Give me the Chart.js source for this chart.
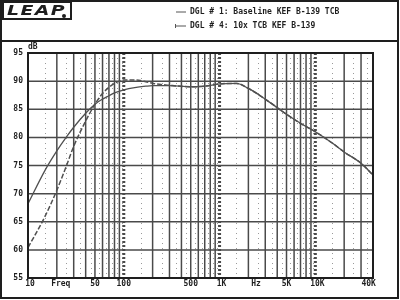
<!DOCTYPE html>
<html>
<head>
<meta charset="utf-8">
<script src="https://cdn.jsdelivr.net/npm/chart.js@4/dist/chart.umd.min.js"></script>
<style>
  html, body { margin: 0; padding: 0; background: #fff; }
  #wrap { width: 400px; height: 300px; }
</style>
</head>
<body>
<div id="wrap"><canvas id="leapChart" width="400" height="300"></canvas></div>
<script>
// frequency points (Hz) and SPL (dB)
const freqs    = [10, 15, 20, 25, 30, 40, 50, 60, 70, 80, 90, 100, 130, 170, 200, 300, 500, 700, 1000, 1500, 2000, 3000, 5000, 7000, 10000, 15000, 20000, 30000, 40000];
const baseline = [68.2, 74.1, 77.6, 80.0, 81.8, 84.3, 85.9, 86.8, 87.4, 87.9, 88.2, 88.45, 88.85, 89.1, 89.2, 89.2, 89.0, 89.1, 89.5, 89.6, 88.7, 86.8, 84.1, 82.5, 81.0, 79.0, 77.4, 75.4, 73.3];
const teb10x   = [60.4, 65.9, 70.6, 74.8, 78.4, 82.9, 85.9, 87.8, 88.9, 89.6, 90.0, 90.2, 90.2, 89.9, 89.6, 89.25, 89.0, 89.1, 89.5, 89.6, 88.7, 86.8, 84.1, 82.5, 81.0, 79.0, 77.4, 75.4, 73.3];

const seriesNames = ['DGL # 1: Baseline KEF B-139 TCB', 'DGL # 4: 10x TCB KEF B-139'];

// x axis labels (positions in Hz)
const xTickVals   = [10.5, 22, 50, 100, 500, 1050, 2400, 5000, 10500, 36000];
const xTickLabels = ['10', 'Freq', '50', '100', '500', '1K', 'Hz', '5K', '10K', '40K'];
const yTicks = [55, 60, 65, 70, 75, 80, 85, 90, 95];

const ink = '#1e1e1e';
const gridDark = '#4a4a4a';
const monoFont = 'bold 8px "DejaVu Sans Mono", monospace';

function toXY(ys) {
  return freqs.map((f, i) => ({ x: f, y: ys[i] }));
}

// draws header box, logo, legend, grid and frame
const leapFrame = {
  id: 'leapFrame',
  beforeDraw(chart) {
    const ctx = chart.ctx;
    ctx.save();
    ctx.fillStyle = '#fff';
    ctx.fillRect(0, 0, chart.width, chart.height);
    ctx.strokeStyle = ink;
    ctx.lineWidth = 2;
    ctx.strokeRect(1, 1, 397, 297);
    ctx.beginPath();
    ctx.moveTo(1, 41);
    ctx.lineTo(398, 41);
    ctx.stroke();

    // logo
    ctx.lineWidth = 2;
    ctx.strokeRect(3, 2, 68, 17);
    ctx.fillStyle = ink;
    ctx.save();
    ctx.translate(7, 11);
    ctx.scale(1.35, 1);
    ctx.font = 'italic bold 14px "DejaVu Sans"';
    ctx.textAlign = 'left';
    ctx.textBaseline = 'middle';
    if ('letterSpacing' in ctx) ctx.letterSpacing = '1px';
    ctx.fillText('LEAP', 0, 0);
    ctx.restore();
    ctx.beginPath();
    ctx.arc(64, 16, 2, 0, Math.PI * 2);
    ctx.fill();

    // legend
    ctx.font = monoFont;
    ctx.textAlign = 'left';
    ctx.textBaseline = 'middle';
    ctx.lineWidth = 1;
    ctx.strokeStyle = '#555';
    const ds = chart.data.datasets;
    ds.forEach((d, i) => {
      const y = 12 + i * 14;
      ctx.beginPath();
      ctx.moveTo(176, y);
      ctx.lineTo(186, y);
      ctx.stroke();
      if (i === 1) {
        ctx.beginPath();
        ctx.moveTo(175.5, y - 2);
        ctx.lineTo(175.5, y + 2);
        ctx.stroke();
      }
      ctx.fillText(d.label, 190, y);
    });
    ctx.restore();
  },
  beforeDatasetsDraw(chart) {
    const ctx = chart.ctx;
    const a = chart.chartArea;
    const xs = chart.scales.x;
    const ys = chart.scales.y;
    ctx.save();

    // minor dotted verticals at the half steps
    ctx.strokeStyle = '#9a9a9a';
    ctx.lineWidth = 1;
    ctx.setLineDash([1, 4]);
    for (let dec = 10; dec <= 10000; dec *= 10) {
      for (let k = 1.5; k < 10; k += 1) {
        const v = k * dec;
        if (v > 40000) continue;
        const px = Math.round(xs.getPixelForValue(v)) + 0.5;
        ctx.beginPath();
        ctx.moveTo(px, a.top);
        ctx.lineTo(px, a.bottom);
        ctx.stroke();
      }
    }

    // solid verticals
    ctx.setLineDash([]);
    ctx.strokeStyle = gridDark;
    ctx.lineWidth = 1.5;
    for (let dec = 10; dec <= 10000; dec *= 10) {
      for (let k = 2; k <= 9; k++) {
        const v = k * dec;
        if (v >= 40000) continue;
        const px = xs.getPixelForValue(v);
        ctx.beginPath();
        ctx.moveTo(px, a.top);
        ctx.lineTo(px, a.bottom);
        ctx.stroke();
      }
    }

    // decade lines, dashed and heavy
    ctx.lineWidth = 3;
    ctx.setLineDash([2, 2]);
    [100, 1000, 10000].forEach(v => {
      const px = xs.getPixelForValue(v);
      ctx.beginPath();
      ctx.moveTo(px, a.top);
      ctx.lineTo(px, a.bottom);
      ctx.stroke();
    });

    // horizontals
    ctx.setLineDash([]);
    ctx.lineWidth = 1.5;
    yTicks.forEach(v => {
      const py = ys.getPixelForValue(v);
      ctx.beginPath();
      ctx.moveTo(a.left, py);
      ctx.lineTo(a.right, py);
      ctx.stroke();
    });
    ctx.restore();
  },
  afterDatasetsDraw(chart) {
    const ctx = chart.ctx;
    const a = chart.chartArea;
    ctx.save();
    ctx.strokeStyle = ink;
    ctx.lineWidth = 2;
    ctx.strokeRect(a.left, a.top, a.right - a.left, a.bottom - a.top);
    ctx.fillStyle = ink;
    ctx.font = monoFont;
    ctx.textAlign = 'left';
    ctx.textBaseline = 'middle';
    ctx.fillText('dB', a.left, a.top - 6);
    ctx.restore();
  }
};

const ctx = document.getElementById('leapChart').getContext('2d');
new Chart(ctx, {
  type: 'line',
  data: {
    datasets: [{
      label: seriesNames[0],
      data: toXY(baseline),
      borderColor: '#505050',
      borderWidth: 1.3,
      pointRadius: 0,
      cubicInterpolationMode: 'monotone',
      fill: false
    }, {
      label: seriesNames[1],
      data: toXY(teb10x),
      borderColor: '#505050',
      borderWidth: 1.5,
      borderDash: [5, 2],
      pointRadius: 0,
      cubicInterpolationMode: 'monotone',
      fill: false
    }]
  },
  options: {
    responsive: false,
    animation: false,
    layout: { padding: { left: 0, top: 53, right: 27, bottom: 0 } },
    plugins: {
      legend: { display: false },
      tooltip: { enabled: false }
    },
    scales: {
      x: {
        type: 'logarithmic',
        min: 10,
        max: 40000,
        grid: { display: false, drawTicks: false },
        border: { display: false },
        afterBuildTicks: scale => {
          scale.ticks = xTickVals.map(v => ({ value: v }));
        },
        afterFit: scale => { scale.height = 22; },
        ticks: {
          autoSkip: false,
          maxRotation: 0,
          padding: 1,
          color: ink,
          font: { family: '"DejaVu Sans Mono"', size: 8, weight: 'bold' },
          callback: (val, i) => xTickLabels[i]
        }
      },
      y: {
        min: 55,
        max: 95,
        grid: { display: false, drawTicks: false },
        border: { display: false },
        afterBuildTicks: scale => {
          scale.ticks = yTicks.map(v => ({ value: v }));
        },
        afterFit: scale => { scale.width = 28; },
        ticks: {
          padding: 5,
          color: ink,
          font: { family: '"DejaVu Sans Mono"', size: 8, weight: 'bold' }
        }
      }
    }
  },
  plugins: [leapFrame]
});
</script>
</body>
</html>
